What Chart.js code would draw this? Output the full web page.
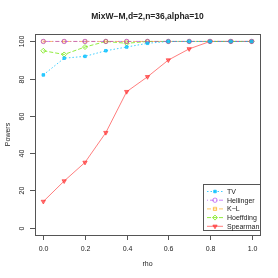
<!DOCTYPE html>
<html><head><meta charset="utf-8">
<script src="https://cdn.jsdelivr.net/npm/chart.js@4"></script>
<style>html,body{margin:0;padding:0;background:#fff}#c{display:block}</style>
</head><body>
<canvas id="c" width="278" height="278"></canvas>
<script>
const rho = [0.0,0.1,0.2,0.3,0.4,0.5,0.6,0.7,0.8,0.9,1.0];
const tv        = [82,91,92,95,97,99,100,100,100,100,100];
const hellinger = [100,100,100,100,100,100,100,100,100,100,100];
const kl        = [100,100,100,100,100,100,100,100,100,100,100];
const hoeffding = [95,93,97,100,99,100,100,100,100,100,100];
const spearman  = [14,25,35,51,73,81,90,96,100,100,100];
const xTicks = [0,0.2,0.4,0.6,0.8,1.0];
const yTicks = [0,20,40,60,80,100];
const title = "MixW\u2212M,d=2,n=36,alpha=10";
const xLabel = "rho", yLabel = "Powers";

const FONT = '"Liberation Sans", Arial, sans-serif';
function pts(a){return rho.map((x,i)=>({x:x,y:a[i]}));}
const specs = [
 {label:'TV', data:tv, color:'rgba(0,191,255,0.75)', dash:[1.5,2], ps:'rect', fill:true, r:1.8},
 {label:'Hellinger', data:hellinger, color:'rgba(160,32,240,0.55)', dash:[1,2,4,2], ps:'circle', fill:false, r:2.2},
 {label:'K\u2212L', data:kl, color:'rgba(255,165,0,0.6)', dash:[4,2], ps:'rect', fill:false, r:2.3},
 {label:'Hoeffding', data:hoeffding, color:'rgba(110,230,0,0.75)', dash:[4,2], ps:'rectRot', fill:false, r:2.5},
 {label:'Spearman', data:spearman, color:'rgba(255,40,40,0.6)', dash:[], ps:'triangle', fill:true, r:2.5, rot:180}
];
const datasets = specs.map(s=>({
  label:s.label, data:pts(s.data), borderColor:s.color, borderWidth:1, borderDash:s.dash,
  pointStyle:s.ps, pointRadius:s.r, pointRotation:s.rot||0, pointBorderWidth:1,
  pointBorderColor:s.color, pointBackgroundColor:s.fill?s.color:'rgba(0,0,0,0)',
  fill:false, tension:0
}));

const decor = {
  id:'decor',
  afterDraw(chart){
    const ctx = chart.ctx, a = chart.chartArea, xs = chart.scales.x, ys = chart.scales.y;
    ctx.save();
    ctx.strokeStyle = '#555'; ctx.lineWidth = 1;
    ctx.strokeRect(Math.round(a.left)+0.5, Math.round(a.top)+0.5, Math.round(a.right-a.left), Math.round(a.bottom-a.top));
    ctx.fillStyle = '#222'; ctx.font = '7px '+FONT;
    ctx.textAlign='center'; ctx.textBaseline='top';
    xTicks.forEach(v=>{const px=Math.round(xs.getPixelForValue(v))+0.5;
      ctx.beginPath(); ctx.moveTo(px,a.bottom); ctx.lineTo(px,a.bottom+5); ctx.stroke();
      ctx.fillText(v.toFixed(1), px, a.bottom+11);});
    yTicks.forEach(v=>{const py=Math.round(ys.getPixelForValue(v))+0.5;
      ctx.beginPath(); ctx.moveTo(a.left,py); ctx.lineTo(a.left-5,py); ctx.stroke();
      ctx.save(); ctx.translate(a.left-13, py); ctx.rotate(-Math.PI/2);
      ctx.textAlign='center'; ctx.textBaseline='middle'; ctx.fillText(String(v),0,0); ctx.restore();});
    ctx.textAlign='center'; ctx.textBaseline='middle';
    ctx.fillText(xLabel, (a.left+a.right)/2, 264);
    ctx.save(); ctx.translate(8,(a.top+a.bottom)/2); ctx.rotate(-Math.PI/2); ctx.fillText(yLabel,0,0); ctx.restore();
    ctx.font = 'bold 8.5px '+FONT;
    ctx.fillText(title, (a.left+a.right)/2, 17);
    const lx=203, ly=184, lw=57, lh=46;
    ctx.fillStyle='#fff'; ctx.fillRect(lx,ly,lw,lh);
    ctx.strokeStyle='#555'; ctx.strokeRect(lx+0.5,ly+0.5,lw,lh);
    ctx.font='7px '+FONT; ctx.textAlign='left';
    chart.data.datasets.forEach((d,i)=>{
      const y = ly+7.5+i*8.7;
      ctx.save(); ctx.strokeStyle=d.borderColor; ctx.setLineDash(d.borderDash); ctx.lineWidth=1;
      ctx.beginPath(); ctx.moveTo(lx+4,y); ctx.lineTo(lx+20,y); ctx.stroke(); ctx.setLineDash([]);
      ctx.fillStyle=d.pointBackgroundColor; ctx.strokeStyle=d.pointBorderColor;
      Chart.helpers.drawPoint(ctx,{pointStyle:d.pointStyle,rotation:d.pointRotation,radius:d.pointRadius,borderWidth:1},lx+12,y);
      ctx.restore();
      ctx.fillStyle='#222'; ctx.fillText(d.label, lx+24, y+0.5);
    });
    ctx.restore();
  }
};

new Chart(document.getElementById('c'),{
  type:'line',
  data:{datasets},
  options:{
    responsive:false, animation:false, devicePixelRatio:1,
    layout:{padding:{left:35,right:18,top:34,bottom:43}},
    plugins:{legend:{display:false},tooltip:{enabled:false},title:{display:false}},
    scales:{
      x:{type:'linear',min:-0.04,max:1.04,display:false},
      y:{type:'linear',min:-4,max:104,display:false}
    }
  },
  plugins:[decor]
});
</script>
</body></html>
